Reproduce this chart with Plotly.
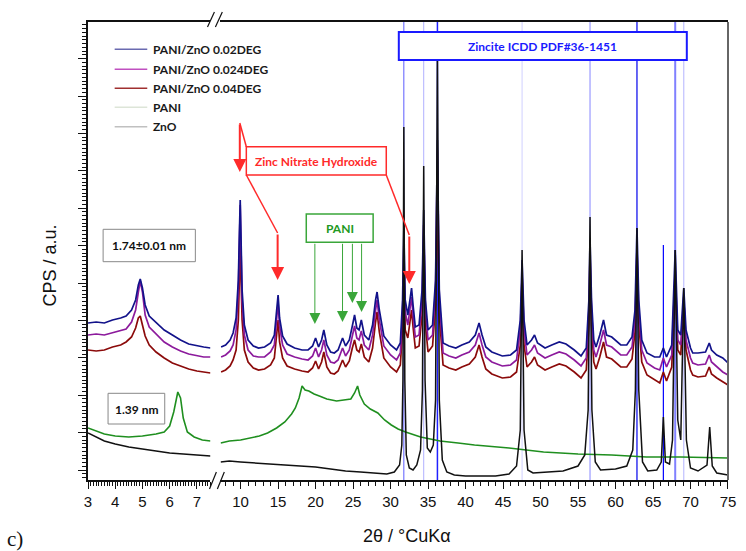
import plotly.graph_objects as go

# ---------------- DATA (intensity in arbitrary CPS units) ----------------
# Left panel (2theta 3 - 7.5)
TH_L_COMP = [3.0, 3.3, 3.6, 3.9, 4.2, 4.4, 4.6, 4.75, 4.85, 4.92, 5.0, 5.1, 5.25, 5.5, 5.8, 6.1, 6.4, 6.7, 7.0, 7.25, 7.5]
L_002 = [177, 178, 177, 180, 182, 184, 190, 200, 215, 221, 212, 195, 184, 178, 170, 165, 160, 156, 154, 153, 152]
L_0024 = [165, 166, 165, 167, 169, 171, 178, 190, 208, 219, 208, 185, 173, 166, 158, 153, 149, 146, 144, 143, 143]
L_004 = [150, 149, 150, 153, 155, 158, 163, 172, 182, 184, 175, 164, 155, 148, 142, 137, 134, 131, 129, 128, 127]

TH_L_PANI = [3.0, 3.3, 3.6, 4.0, 4.5, 5.0, 5.5, 5.8, 6.0, 6.15, 6.3, 6.4, 6.5, 6.65, 6.9, 7.2, 7.5]
L_PANI = [72, 69, 66, 64, 63, 64, 66, 68, 74, 88, 108, 102, 82, 68, 63, 60, 59]

TH_L_ZNO = [3.0, 3.3, 3.6, 4.0, 4.5, 5.0, 5.5, 6.0, 6.5, 7.0, 7.5]
L_ZNO = [67, 63, 59, 56, 53, 51, 49, 47, 46, 45, 44]

# Right panel (2theta 7.3 - 75)
TH_R_COMP = [7.4, 8.0, 8.6, 9.0, 9.4, 9.7, 9.85, 9.95, 10.05, 10.2,
             10.5, 11.0, 11.7, 12.4, 13.2, 14.0, 14.5, 14.8, 15.0, 15.2,
             15.6, 16.2, 17.2, 18.2, 19.0, 19.6, 20.0, 20.4, 20.8, 21.1,
             21.5, 22.0, 22.5, 23.0, 23.6, 24.0, 24.5, 24.9, 25.2, 25.5,
             25.8, 26.1, 26.5, 27.1, 27.6, 28.0, 28.2, 28.5, 29.1, 30.0,
             30.8, 31.3, 31.6, 31.77, 31.95, 32.3, 32.6, 32.8, 33.0, 33.3,
             33.8, 34.2, 34.42, 34.65, 35.0, 35.6, 36.0, 36.25, 36.5, 37.0,
             37.8, 38.7, 39.5, 40.5, 41.3, 41.8, 42.2, 42.7, 43.5, 44.9,
             46.0, 46.8, 47.3, 47.54, 47.8, 48.2, 48.8, 49.2, 49.6, 50.6,
             51.5, 52.5, 53.4, 54.5, 55.4, 56.1, 56.45, 56.6, 56.8, 57.1,
             57.4, 57.9, 58.4, 58.8, 59.5, 60.7, 61.5, 62.2, 62.6, 62.86,
             63.1, 63.5, 64.2, 65.2, 65.9, 66.38, 66.8, 67.5, 67.96, 68.3,
             68.7, 69.1, 69.4, 70.0, 70.3, 71.0, 72.0, 72.5, 72.8, 73.5,
             74.3, 75.0]
R_002 = [153, 155, 160, 167, 182, 220, 270, 300, 265, 210,
         175, 160, 154, 152, 153, 157, 165, 188, 205, 182,
         164, 156, 152, 150, 150, 154, 162, 153, 160, 170,
         155, 148, 147, 150, 162, 154, 160, 174, 185, 172,
         170, 180, 165, 160, 175, 200, 208, 190, 164, 155,
         150, 157, 200, 270, 200, 185, 205, 212, 195, 173,
         175, 210, 290, 200, 170, 175, 220, 360, 210, 157,
         154, 152, 155, 158, 165, 177, 165, 153, 148, 144,
         145, 150, 180, 240, 180, 155, 160, 165, 157, 152,
         155, 158, 156, 150, 144, 152, 200, 260, 200, 160,
         153, 165, 180, 165, 163, 155, 155, 163, 190, 272,
         200, 160, 147, 143, 143, 152, 143, 155, 250, 170,
         165, 212, 170, 152, 147, 147, 148, 157, 150, 145,
         142, 137]
R_0024 = [143, 145, 149, 155, 170, 210, 260, 295, 255, 200,
          165, 150, 144, 143, 143, 148, 155, 180, 197, 174,
          155, 146, 143, 141, 140, 144, 152, 143, 150, 160,
          145, 138, 137, 140, 152, 144, 150, 164, 174, 162,
          160, 169, 155, 150, 165, 190, 200, 180, 154, 145,
          140, 147, 185, 255, 188, 175, 195, 203, 185, 163,
          165, 200, 275, 190, 160, 165, 210, 350, 200, 147,
          144, 142, 145, 148, 155, 167, 155, 143, 138, 134,
          135, 140, 170, 225, 170, 145, 150, 155, 147, 142,
          145, 148, 146, 140, 134, 142, 190, 245, 190, 150,
          143, 155, 170, 155, 153, 145, 145, 153, 180, 250,
          190, 150, 137, 132, 130, 142, 133, 145, 230, 160,
          155, 200, 160, 142, 137, 135, 136, 145, 138, 133,
          128, 125]
R_004 = [128, 130, 134, 140, 150, 180, 225, 257, 225, 180,
         150, 138, 132, 130, 131, 135, 142, 162, 180, 158,
         142, 134, 131, 129, 128, 132, 139, 131, 138, 148,
         133, 127, 126, 129, 140, 133, 139, 152, 160, 150,
         148, 156, 143, 138, 152, 178, 188, 168, 142, 133,
         128, 135, 170, 230, 170, 162, 182, 190, 173, 152,
         154, 185, 250, 175, 148, 154, 195, 310, 185, 135,
         132, 130, 133, 136, 143, 155, 143, 131, 126, 122,
         123, 128, 155, 205, 155, 133, 138, 143, 135, 130,
         133, 136, 134, 128, 122, 130, 175, 220, 175, 138,
         131, 143, 158, 143, 141, 133, 133, 141, 168, 240,
         178, 138, 125, 120, 117, 128, 119, 133, 223, 150,
         145, 203, 150, 130, 125, 123, 124, 133, 126, 122,
         118, 115]

TH_R_PANI = [7.35, 8.5, 10.0, 11.3, 12.5, 13.6, 14.8, 15.9, 16.8, 17.3,
             17.8, 18.2, 18.6, 19.1, 19.8, 20.5, 21.5, 22.8, 24.0, 24.7,
             25.2, 25.6, 25.9, 26.5, 27.3, 28.3, 29.2, 30.1, 31.0, 32.0,
             34.0, 36.6, 39.0, 41.2, 45.8, 50.4, 55.0, 59.5, 64.1, 68.7, 75.0]
R_PANI = [57, 59, 60, 62, 64, 67, 72, 78, 86, 92,
          102, 114, 110, 109, 106, 104, 101, 99, 100, 101,
          107, 114, 105, 96, 91, 87, 80, 75, 71, 68,
          63, 59, 57, 55, 52, 48, 46, 45, 43, 43, 42]

TH_R_ZNO = [7.35, 8.5, 10.0, 12.0, 14.0, 16.0, 18.0, 20.0, 22.0, 24.0,
            26.0, 28.0, 29.5, 30.5, 31.2, 31.5, 31.65, 31.77, 31.9, 32.1,
            32.5, 33.0, 33.5, 34.0, 34.25, 34.42, 34.6, 34.9, 35.3, 35.7,
            36.0, 36.25, 36.5, 36.9, 37.5, 38.5, 40.0, 42.0, 44.0, 45.8,
            46.8, 47.3, 47.54, 47.8, 48.3, 49.0, 51.0, 53.0, 55.0, 55.9,
            56.35, 56.6, 56.85, 57.3, 58.0, 60.0, 61.5, 62.3, 62.65, 62.86,
            63.1, 63.6, 64.3, 65.5, 66.1, 66.38, 66.65, 67.2, 67.6, 67.96,
            68.3, 68.7, 69.1, 69.45, 70.0, 71.0, 72.2, 72.56, 72.9, 73.5, 75.0]
R_ZNO = [38, 39, 38, 37, 36, 35, 34, 33, 31, 29,
         28, 27, 26, 28, 35, 55, 120, 373, 120, 45,
         32, 30, 35, 50, 110, 334, 120, 52, 48, 55,
         100, 445, 100, 40, 28, 25, 24, 24, 24, 26,
         34, 70, 250, 70, 30, 27, 28, 29, 34, 45,
         90, 283, 90, 38, 30, 31, 34, 50, 110, 272,
         110, 38, 29, 30, 38, 83, 38, 36, 60, 250,
         80, 60, 212, 60, 32, 29, 35, 73, 34, 27, 25]

# Zincite ICDD PDF#36-1451 reference stick positions and heights
ZNO_REF_POS = [31.77, 34.42, 36.25, 47.54, 56.60, 62.86, 66.38, 67.96, 69.10]
ZNO_REF_TOP = [478, 478, 478, 478, 478, 478, 255, 478, 478]

SERIES_NAMES = ["PANI/ZnO 0.02DEG", "PANI/ZnO 0.024DEG", "PANI/ZnO 0.04DEG", "PANI", "ZnO"]
X_TICKS_L = [3, 4, 5, 6, 7]
X_TICKS_R = [10, 15, 20, 25, 30, 35, 40, 45, 50, 55, 60, 65, 70, 75]

# ---------------- STYLE / LAYOUT ----------------
W, H = 746, 551
ML, MR, MT, MB = 88, 10, 22, 71
PW = W - ML - MR
PH = H - MT - MB
Y0 = H - MB


def PX(p):
    return (p - ML) / PW


def PY(q):
    return (Y0 - q) / PH


C_BLUE = "#12128a"
C_PURP = "#8c1a9c"
C_RED = "#8b0a0a"
C_GREEN = "#1f8f1f"
C_BLACK = "#111111"
REF_COLORS = ["#5c5cff", "#b0b0ff", "#2020ff", "#d0d0ff", "#9a9aff", "#1515ee", "#0000ff", "#8080ff", "#c0c0ff"]
REF_WIDTHS = [1, 1, 1.5, 1, 1.2, 1.3, 1.2, 2, 1.2]
LEG_COLORS = ["#6a6ab0", "#c050c0", "#a03030", "#dde5d8", "#c0c0c0"]

fig = go.Figure()

# reference sticks
for pos, top, col, wd in zip(ZNO_REF_POS, ZNO_REF_TOP, REF_COLORS, REF_WIDTHS):
    fig.add_trace(go.Scatter(x=[pos, pos], y=[20, top], mode="lines", xaxis="x2", yaxis="y",
                             line=dict(color=col, width=wd), showlegend=False, hoverinfo="skip"))

series = [
    (SERIES_NAMES[2], TH_L_COMP, L_004, TH_R_COMP, R_004, C_RED, 1.7),
    (SERIES_NAMES[1], TH_L_COMP, L_0024, TH_R_COMP, R_0024, C_PURP, 1.7),
    (SERIES_NAMES[0], TH_L_COMP, L_002, TH_R_COMP, R_002, C_BLUE, 1.7),
    (SERIES_NAMES[3], TH_L_PANI, L_PANI, TH_R_PANI, R_PANI, C_GREEN, 1.6),
    (SERIES_NAMES[4], TH_L_ZNO, L_ZNO, TH_R_ZNO, R_ZNO, C_BLACK, 1.5),
]
for name, xl, yl, xr, yr, col, lw in series:
    fig.add_trace(go.Scatter(x=xl, y=yl, mode="lines", name=name, xaxis="x", yaxis="y",
                             line=dict(color=col, width=lw), showlegend=False))
    fig.add_trace(go.Scatter(x=xr, y=yr, mode="lines", name=name, xaxis="x2", yaxis="y",
                             line=dict(color=col, width=lw), showlegend=False))

TICKFONT = dict(family="Liberation Sans, Arial, sans-serif", size=15, color="#111")
common_x = dict(showline=True, linecolor="#111", linewidth=1.5, mirror=True, ticks="outside",
                ticklen=7, tickwidth=1.2, tickcolor="#111", showgrid=False, zeroline=False,
                tickfont=TICKFONT, anchor="y")

fig.update_layout(
    width=W, height=H,
    margin=dict(l=ML, r=MR, t=MT, b=MB),
    paper_bgcolor="white", plot_bgcolor="white",
    showlegend=False,
    xaxis=dict(domain=[0, PX(212)], range=[3, 7.5], tickmode="array", tickvals=X_TICKS_L,
               minor=dict(dtick=0.1, tick0=3, ticks="outside", ticklen=4, tickcolor="#111"),
               **common_x),
    xaxis2=dict(domain=[PX(222), 1], range=[7.3, 75], tickmode="array", tickvals=X_TICKS_R,
                minor=dict(dtick=1, tick0=10, ticks="outside", ticklen=4, tickcolor="#111"),
                **common_x),
    yaxis=dict(range=[20, 478], anchor="x", showline=True, linecolor="#111", linewidth=1.5,
               ticks="outside", ticklen=8, tickwidth=1.2, tickcolor="#111",
               tickmode="linear", tick0=30, dtick=37.4, showticklabels=False,
               minor=dict(dtick=3.74, tick0=30, ticks="outside", ticklen=4, tickcolor="#111"),
               showgrid=False, zeroline=False),
)

shapes = []
annots = []


def seg(x0, y0, x1, y1, color, width=1.5):
    shapes.append(dict(type="line", xref="paper", yref="paper", x0=PX(x0), y0=PY(y0), x1=PX(x1), y1=PY(y1),
                       line=dict(color=color, width=width), layer="above"))


def box(x0, y0, x1, y1, color, width=1.5):
    shapes.append(dict(type="rect", xref="paper", yref="paper", x0=PX(x0), y0=PY(y1), x1=PX(x1), y1=PY(y0),
                       line=dict(color=color, width=width), fillcolor="white", layer="above"))


def text(x, y, s, color, size=12, xanchor="center", weight="bold", family="Lato, Open Sans, sans-serif"):
    annots.append(dict(xref="paper", yref="paper", x=PX(x), y=PY(y), text=s, showarrow=False,
                       xanchor=xanchor, yanchor="middle",
                       font=dict(family=family, size=size, color=color, weight=weight)))


def arrow(tx, ty, fx, fy, color, width, size):
    annots.append(dict(xref="paper", yref="paper", x=PX(tx), y=PY(ty), ax=fx - tx, ay=fy - ty,
                       axref="pixel", ayref="pixel", text="", showarrow=True, arrowhead=2,
                       arrowwidth=width, arrowsize=size, arrowcolor=color, standoff=0))


# right border
seg(736, 480, 736, 22, "#666", 2)
# axis break slashes
seg(209, 27, 216, 12, "#111", 1.2)
seg(217, 27, 224, 12, "#111", 1.2)
seg(211, 489, 218, 472, "#111", 1.2)
seg(219, 489, 226, 472, "#111", 1.2)

# legend
LEG_Y = [49.3, 69.3, 88.3, 107.3, 126.7]
for nm, yy, lc in zip(SERIES_NAMES, LEG_Y, LEG_COLORS):
    seg(115, yy, 148, yy, lc, 1.5)
    text(152, yy, nm, "#1a1a1a", 12, xanchor="left")

# Zincite box
box(402.7, 32, 694.3, 60, "#1a1aff", 2)
text(548.5, 46, "Zincite ICDD PDF#36-1451", "#1a1aff", 12)

# Zinc Nitrate Hydroxide callout
RED = "#ff2a2a"
box(248.3, 146.7, 390, 175, RED, 1.5)
text(319, 161, "Zinc Nitrate Hydroxide", RED, 12)
seg(248.3, 146.7, 241.7, 123, RED, 1.5)
seg(248.3, 175, 280, 233, RED, 1.5)
seg(390, 175, 413.3, 235, RED, 1.5)
arrow(241.7, 172, 241.7, 123, RED, 2, 1.3)
arrow(280, 280, 280, 233, RED, 2, 1.3)
arrow(413.3, 284, 413.3, 235, RED, 2, 1.3)

# PANI callout
GRN = "#3aa63a"
box(309, 214, 376.7, 242.3, GRN, 1.5)
text(343, 228.5, "PANI", "#229922", 12)
for tx, ty in [(317.7, 324), (345.7, 322), (355.7, 303), (365, 312)]:
    arrow(tx, ty, tx, 242.3, GRN, 1, 2.2)

# d-spacing boxes
box(103.3, 229.3, 196.7, 261.7, "#888", 1)
text(150, 245.5, "1.74\u00b10.01 nm", "#111", 12)
box(108.3, 393.3, 165.7, 424, "#888", 1)
text(137, 409, "1.39 nm", "#111", 12)

# axis titles and panel label
AXFONT = "Liberation Sans, Arial, sans-serif"
annots.append(dict(xref="paper", yref="paper", x=PX(411), y=PY(536), text="2\u03b8 / \u00b0CuK\u03b1",
                   showarrow=False, xanchor="center", yanchor="middle",
                   font=dict(family=AXFONT, size=18, color="#111")))
annots.append(dict(xref="paper", yref="paper", x=PX(50), y=PY(265), text="CPS / a.u.", textangle=-90,
                   showarrow=False, xanchor="center", yanchor="middle",
                   font=dict(family=AXFONT, size=18, color="#111")))
annots.append(dict(xref="paper", yref="paper", x=PX(4), y=PY(539), text="c)",
                   showarrow=False, xanchor="left", yanchor="middle",
                   font=dict(family="Liberation Serif, Times New Roman, serif", size=21, color="#111")))

fig.update_layout(shapes=shapes, annotations=annots)
fig.write_html("out.html", config={"displayModeBar": False},
               post_script="document.body.style.margin='0';document.body.style.overflow='hidden';")
